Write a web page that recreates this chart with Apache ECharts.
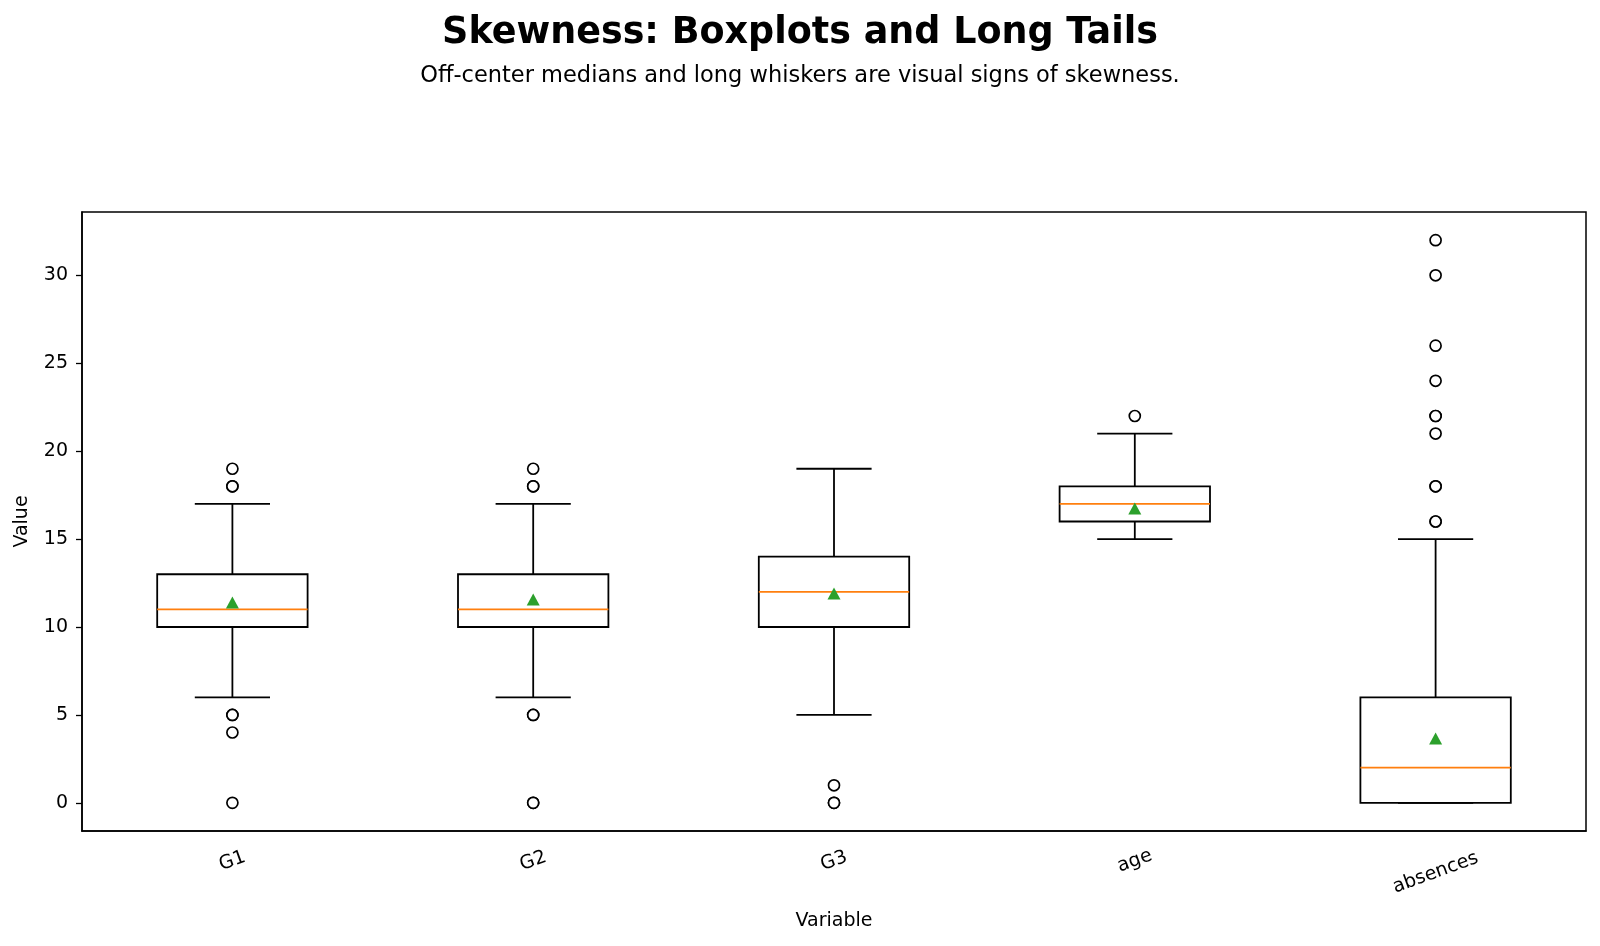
<!DOCTYPE html>
<html>
<head>
<meta charset="utf-8">
<title>Skewness: Boxplots and Long Tails</title>
<script src="https://cdn.jsdelivr.net/npm/echarts@6/dist/echarts.min.js"></script>
<style>
  html, body { margin: 0; padding: 0; background: #fff; }
  #main { width: 1600px; height: 946px; }
</style>
</head>
<body>
<div id="main"></div>
<script>
// variables on the x axis
const categories = ["G1", "G2", "G3", "age", "absences"];
// five-number summary
const whiskerLow = [6, 6, 5, 15, 0];
const q1 = [10, 10, 10, 16, 0];
const medians = [11, 11, 12, 17, 2];
const q3 = [13, 13, 14, 18, 6];
const whiskerHigh = [17, 17, 19, 21, 15];
// means (green triangles)
const means = [11.4, 11.57, 11.91, 16.74, 3.66];
// fliers, repeated values kept (they look bolder in the picture)
const outliers = [
  [18, 18, 19, 5, 5, 4, 0],
  [18, 18, 19, 5, 5, 0, 0],
  [1, 0, 0],
  [22],
  [16, 16, 18, 18, 21, 22, 22, 24, 26, 30, 32],
];
const yTicks = [0, 5, 10, 15, 20, 25, 30];

const FONT = "DejaVu Sans";

// build series data from the arrays
const boxData = categories.map((c, i) => [i, whiskerLow[i], q1[i], medians[i], q3[i], whiskerHigh[i]]);
const meanData = categories.map((c, i) => [c, means[i]]);
let flierData = [];
outliers.forEach((vals, i) => {
  vals.forEach((v) => flierData.push([categories[i], v]));
});

// matplotlib-like box: box half a band wide, caps half the box
function renderBox(params, api) {
  const i = api.value(0);
  const pLow = api.coord([i, api.value(1)]);
  const pQ1 = api.coord([i, api.value(2)]);
  const pMed = api.coord([i, api.value(3)]);
  const pQ3 = api.coord([i, api.value(4)]);
  const pHigh = api.coord([i, api.value(5)]);
  const band = api.size([1, 0])[0];
  const x = pMed[0];
  const hw = band * 0.25;
  const cw = band * 0.125;
  const black = { stroke: "#000", lineWidth: 1.8, fill: null };
  return {
    type: "group",
    children: [
      { type: "line", shape: { x1: x, y1: pQ1[1], x2: x, y2: pLow[1] }, style: black },
      { type: "line", shape: { x1: x, y1: pQ3[1], x2: x, y2: pHigh[1] }, style: black },
      { type: "line", shape: { x1: x - cw, y1: pLow[1], x2: x + cw, y2: pLow[1] }, style: black },
      { type: "line", shape: { x1: x - cw, y1: pHigh[1], x2: x + cw, y2: pHigh[1] }, style: black },
      { type: "rect", shape: { x: x - hw, y: pQ3[1], width: hw * 2, height: pQ1[1] - pQ3[1] }, style: black },
      { type: "line", shape: { x1: x - hw, y1: pMed[1], x2: x + hw, y2: pMed[1] }, style: { stroke: "#ff7f0e", lineWidth: 1.8 } },
    ],
  };
}

const myChart = echarts.init(document.getElementById("main"));
myChart.setOption({
  animation: false,
  backgroundColor: "#fff",
  textStyle: { fontFamily: FONT },
  title: [
    {
      text: "Skewness: Boxplots and Long Tails",
      left: "center",
      top: 10,
      textStyle: { fontFamily: FONT, fontSize: 36.5, fontWeight: "bold", color: "#000" },
    },
    {
      text: "Off-center medians and long whiskers are visual signs of skewness.",
      left: "center",
      top: 60,
      textStyle: { fontFamily: FONT, fontSize: 22.5, fontWeight: "normal", color: "#000" },
    },
  ],
  grid: {
    left: 82,
    right: 14,
    top: 212,
    bottom: 115,
    show: true,
    borderColor: "#000",
    borderWidth: 1.5,
    backgroundColor: "transparent",
  },
  xAxis: {
    type: "category",
    data: categories,
    boundaryGap: true,
    name: "Variable",
    nameLocation: "middle",
    nameGap: 81,
    nameTextStyle: { fontFamily: FONT, fontSize: 19, color: "#000" },
    axisLine: { onZero: false, lineStyle: { color: "#000", width: 1.5 } },
    axisTick: { alignWithLabel: true, length: 6, lineStyle: { color: "#000", width: 1.3 } },
    axisLabel: {
      rotate: 20,
      interval: 0,
      align: "center",
      verticalAlign: "middle",
      margin: 30,
      fontSize: 19,
      color: "#000",
      fontFamily: FONT,
      // long labels sit a bit lower, like matplotlib's top-aligned rotated text
      formatter: (v) => (v.length > 4 ? "{l|" + v + "}" : "{s|" + v + "}"),
      rich: {
        s: { fontSize: 19, fontFamily: FONT, color: "#000" },
        l: { fontSize: 19, fontFamily: FONT, color: "#000", padding: [22, 8, 0, 0] },
      },
    },
    splitLine: { show: false },
  },
  yAxis: {
    type: "value",
    min: -1.6,
    max: 33.6,
    name: "Value",
    nameLocation: "middle",
    nameGap: 50,
    nameRotate: 90,
    nameTextStyle: { fontFamily: FONT, fontSize: 19, color: "#000" },
    axisLine: { show: true, onZero: false, lineStyle: { color: "#000", width: 1.5 } },
    axisTick: { show: true, length: 6, customValues: yTicks, lineStyle: { color: "#000", width: 1.3 } },
    axisLabel: { customValues: yTicks, fontSize: 19, color: "#000", fontFamily: FONT, margin: 14 },
    splitLine: { show: false },
  },
  series: [
    {
      name: "box",
      type: "custom",
      renderItem: renderBox,
      data: boxData,
      encode: { x: 0, y: [1, 2, 3, 4, 5] },
      z: 2,
    },
    {
      name: "outliers",
      type: "scatter",
      data: flierData,
      symbol: "circle",
      symbolSize: 11,
      itemStyle: { color: "#fff", borderColor: "#000", borderWidth: 1.7, opacity: 1 },
      z: 3,
    },
    {
      name: "mean",
      type: "scatter",
      data: meanData,
      symbol: "triangle",
      symbolSize: [13, 12],
      itemStyle: { color: "#2ca02c", opacity: 1 },
      z: 4,
    },
  ],
});
</script>
</body>
</html>
